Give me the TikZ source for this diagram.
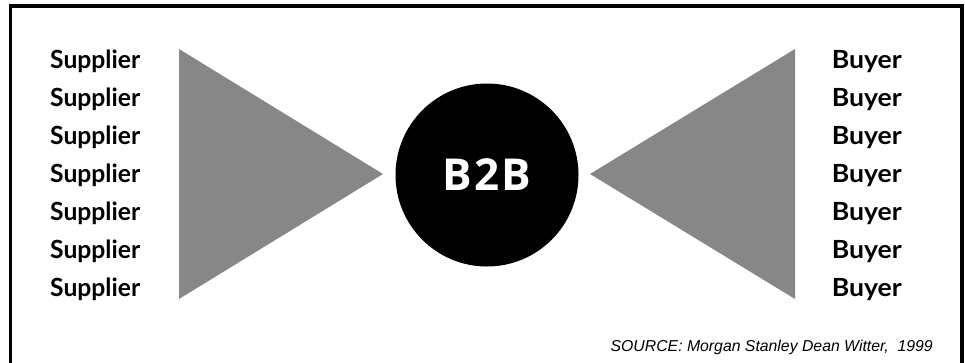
\documentclass[tikz,border=0pt]{standalone}
\usepackage{fontspec}
\usepackage{graphicx}
\setmainfont{Open Sans}
\newfontfamily\partyfont{Lato}
\newfontfamily\srcfont{Liberation Sans}
% set a word at a given width (in pt), keeping its height
\newlength\wordwd
\newcommand\fitword[2]{\settowidth\wordwd{#2}\scalebox{\fpeval{#1/\wordwd}}[1]{#2}}
\begin{document}
\begin{tikzpicture}[x=1pt,y=-1pt,
  party/.style={font=\partyfont\bfseries\fontsize{25}{28}\selectfont, inner sep=0pt},
  funnel/.style={fill=black!47, draw=none}]
\useasboundingbox (0,0) rectangle (965,362);
\begin{scope}
  \clip (0,0) rectangle (965,362);
  \draw[line width=3.5pt] (10.5,6) rectangle (962,380);
\end{scope}
% funnels
\fill[funnel] (179,49) -- (179,299) -- (383,174) -- cycle;
\fill[funnel] (795,49) -- (795,299) -- (590,174) -- cycle;
% hub
\node[circle, fill=black, minimum size=183pt, inner sep=0pt, text=white,
  font=\bfseries\fontsize{44}{50}\selectfont] (hub) at (487,175) {B\kern2pt2\kern2ptB};
% suppliers and buyers
\foreach \i in {0,...,6} {
  \node[party, anchor=base west] (s\i) at (50,{68+38*\i}) {\fitword{90}{Supplier}};
  \node[party, anchor=base east] (b\i) at (902,{68+38*\i}) {\fitword{70}{Buyer}};
}
\node[anchor=base east, inner sep=0pt, font=\srcfont\itshape\fontsize{15.8}{18}\selectfont] (src) at (933,351) {SOURCE: Morgan Stanley Dean Witter,~~1999};
\end{tikzpicture}
\end{document}
